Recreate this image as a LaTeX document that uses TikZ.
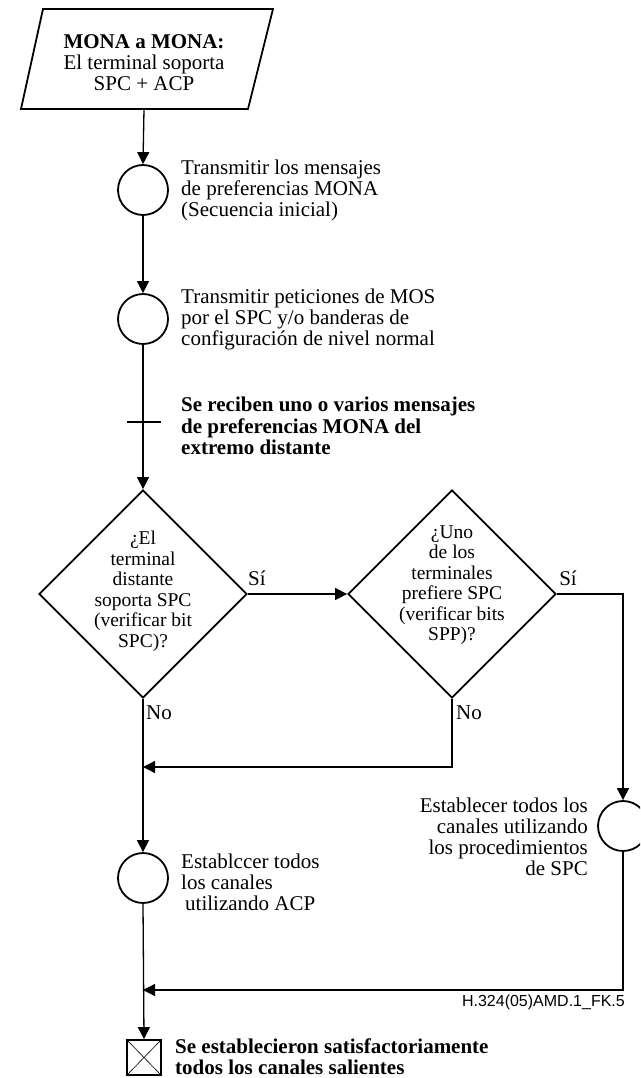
\documentclass[tikz,border=0pt]{standalone}
\usepackage{fontspec}
\setmainfont{Liberation Serif}
\newfontfamily\codefont{Liberation Sans}
\usetikzlibrary{shapes.geometric,arrows.meta}
\begin{document}
\begin{tikzpicture}[x=1pt,y=-1pt,
  outline/.style={draw, line width=1.8pt},
  proc/.style={outline, circle, minimum size=50pt, inner sep=0pt},
  decision/.style={outline, diamond, aspect=1, minimum width=208pt, minimum height=208pt, inner sep=0pt},
  flow/.style={line width=1.3pt, -{Triangle[length=12pt,width=12pt]}},
  wire/.style={line width=1.3pt},
  txt/.style={font=\fontsize{21}{21}\selectfont, inner sep=0pt, align=left},
  dtxt/.style={font=\fontsize{19.5}{20.5}\selectfont, inner sep=0pt, align=center},
  btxt/.style={txt, font=\fontsize{21}{21.5}\selectfont\bfseries},
  small/.style={font=\fontsize{21}{21}\selectfont, inner sep=0pt},
]
\useasboundingbox (0,0) rectangle (640,1078);
\clip (0,0) rectangle (640,1078);

% start: parallelogram
\draw[outline, line join=miter] (43,9) -- (273,9) -- (248,109) -- (21,109) -- cycle;
\node[txt, align=center] (start) at (144,62.5)
  {\textbf{MONA a MONA:}\\El terminal soporta\\SPC + ACP};
\coordinate (startb) at (144,109);

% procedure steps
\node[proc] (c1) at (143,190) {};
\node[txt, anchor=west] (t1) at (181,190)
  {Transmitir los mensajes\\de preferencias MONA\\(Secuencia inicial)};

\node[proc] (c2) at (143,319) {};
\node[txt, anchor=west] (t2) at (181,319)
  {Transmitir peticiones de MOS\\por el SPC y/o banderas de\\configuración de nivel normal};

% received messages
\coordinate (tickl) at (127,422);
\coordinate (tickr) at (161,422);
\node[btxt, anchor=west] (recv) at (181,426)
  {Se reciben uno o varios mensajes\\de preferencias MONA del\\extremo distante};

% decisions
\node[decision] (d1) at (143,594) {};
\node[dtxt] (d1t) at (143,591.5)
  {¿El\\terminal\\distante\\soporta SPC\\(verificar bit\\SPC)?};
\node[decision] (d2) at (452,594) {};
\node[dtxt] (d2t) at (452,585)
  {¿Uno\\de los\\terminales\\prefiere SPC\\(verificar bits\\SPP)?};

% channel set-up
\node[proc] (c3) at (143,878) {};
\node[txt, anchor=west] (t3) at (181,882)
  {Establccer todos\\los canales\\\hspace*{4pt}utilizando ACP};

\node[proc] (c4) at (623,826) {};
\node[txt, anchor=east, align=right] (t4) at (588,837)
  {Establecer todos los\\canales utilizando\\los procedimientos\\de SPC};

% end: crossed box
\node[outline, rectangle, minimum width=34pt, minimum height=35pt, inner sep=0pt] (fin) at (144,1057.5) {};
\draw[line width=0.6pt] (fin.north west) -- (fin.south east) (fin.north east) -- (fin.south west);
\node[btxt, anchor=west] (fint) at (175,1056.5)
  {Se establecieron satisfactoriamente\\todos los canales salientes};

% merge points
\coordinate (m1) at (143,767);
\coordinate (m2) at (143,990);

% connectors
\draw[flow] (startb) -- (c1.north);
\draw[flow] (c1.south) -- (c2.north);
\draw[flow] (c2.south) -- (d1.north);
\draw[wire] (tickl) -- (tickr);
\draw[flow] (d1.east) -- (d2.west);
\draw[flow] (d2.east) -| (c4.north);
\draw[flow] (d1.south) -- (c3.north);
\draw[flow] (d2.south) |- (m1);
\draw[flow] (c3.south) -- (fin.north);
\draw[flow] (c4.south) |- (m2);

% branch labels
\node[small] (s1) at (257,578) {Sí};
\node[small] (s2) at (568,578) {Sí};
\node[small, anchor=west] (n1) at (146,713) {No};
\node[small, anchor=west] (n2) at (456,713) {No};

% figure reference
\node[font=\codefont\fontsize{16}{16}\selectfont, inner sep=0pt, anchor=east] (ref) at (625,1002)
  {H.324(05)AMD.1\_FK.5};
\end{tikzpicture}
\end{document}
